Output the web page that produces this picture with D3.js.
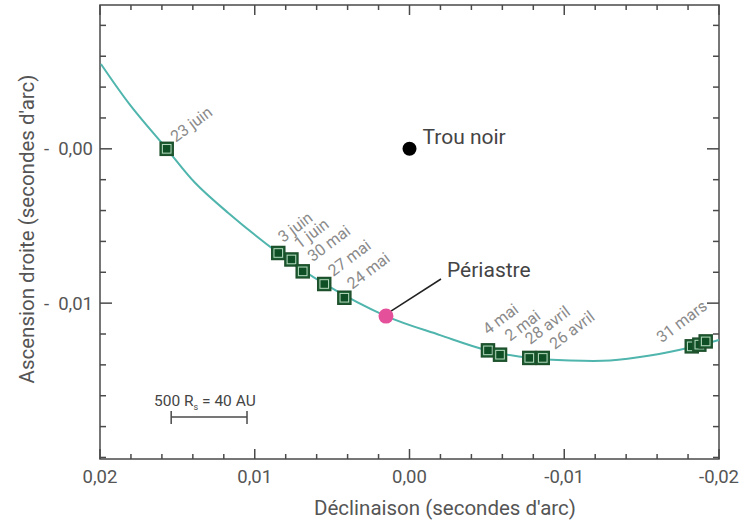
<!DOCTYPE html>
<html>
<head>
<meta charset="utf-8">
<script src="https://cdn.jsdelivr.net/npm/d3@7"></script>
<style>
  body { margin: 0; background: #fff; }
  svg text { font-family: Roboto, "Noto Sans", sans-serif; }
</style>
</head>
<body>
<svg id="chart" width="750" height="521"></svg>
<script>
// observed positions of the star (declinaison, ascension droite), arcsec
var obs_dates = ["23 juin", "3 juin", "1 juin", "30 mai", "27 mai", "24 mai",
                 "4 mai", "2 mai", "28 avril", "26 avril", "31 mars", "", ""];
var obs_dec = [0.01569, 0.00848, 0.00763, 0.00690, 0.00551, 0.00421,
               -0.00507, -0.00585, -0.00774, -0.00861, -0.01824, -0.01873, -0.01914];
var obs_ra = [0.00000, -0.00675, -0.00717, -0.00794, -0.00876, -0.00965,
              -0.01306, -0.01334, -0.01355, -0.01355, -0.01280, -0.01269, -0.01248];

// fitted orbit
var orbit_dec = [0.01994, 0.01806, 0.01569, 0.01386, 0.01173, 0.00850, 0.00552, 0.00152,
                 -0.00197, -0.00507, -0.00779, -0.01037, -0.01296, -0.01554, -0.01813, -0.02000];
var orbit_ra = [0.00550, 0.00285, 0.00000, -0.00220, -0.00414, -0.00673, -0.00874, -0.01084,
                -0.01207, -0.01307, -0.01356, -0.01372, -0.01372, -0.01340, -0.01288, -0.01239];

var black_hole = [0.0, 0.0];
var periastre = [0.00152, -0.01084];

var x_ticks = [0.02, 0.01, 0.0, -0.01, -0.02];
var y_ticks = [0.0, -0.01];

// label nudges (px) relative to each square
var label_dx = [9, 5, 8, 10, 9, 8, 0, 10, 1, 12, -30, 0, 0];
var label_dy = [-6, -10, -10, -9, -7, -8, -15, -13, -13, -8, -3, 0, 0];

const LEFT = 100, RIGHT = 719, TOP = 5, BOTTOM = 459;
const AXIS_COLOR = "#4a4a4a";
const TEXT_COLOR = "#555";

var svg = d3.select("svg#chart");

var x = d3.scaleLinear().domain([0.02, -0.02]).range([LEFT, RIGHT]);
var y = d3.scaleLinear().domain([0.00932, -0.0201]).range([TOP, BOTTOM]);

var fmt = v => v.toFixed(2).replace(".", ",").replace("-", "");
var fmt_x = v => (v < 0 ? "-" : "") + fmt(v);
var fmt_y = v => "-  " + fmt(v);

var minor_x = d3.range(-0.02, 0.0201, 0.002);
var minor_y = d3.range(-0.02, 0.0093, 0.002);

// ticks, all pointing inward
var ticks = svg.append("g").attr("stroke", AXIS_COLOR).attr("stroke-width", 1.5);
minor_x.forEach(function(v) {
    var major = x_ticks.some(t => Math.abs(t - v) < 1e-6);
    var len = major ? 10 : 5;
    ticks.append("line").attr("x1", x(v)).attr("x2", x(v)).attr("y1", BOTTOM).attr("y2", BOTTOM - len);
    ticks.append("line").attr("x1", x(v)).attr("x2", x(v)).attr("y1", TOP).attr("y2", TOP + len);
});
minor_y.forEach(function(v) {
    var major = y_ticks.some(t => Math.abs(t - v) < 1e-6);
    var len = major ? 12 : 6;
    ticks.append("line").attr("y1", y(v)).attr("y2", y(v)).attr("x1", LEFT).attr("x2", LEFT + len);
    ticks.append("line").attr("y1", y(v)).attr("y2", y(v)).attr("x1", RIGHT).attr("x2", RIGHT - len);
});

svg.append("rect")
    .attr("x", LEFT).attr("y", TOP)
    .attr("width", RIGHT - LEFT).attr("height", BOTTOM - TOP)
    .attr("fill", "none")
    .style("stroke", AXIS_COLOR)
    .style("stroke-width", 1.5);

svg.append("g").selectAll("text")
    .data(x_ticks)
    .join("text")
    .attr("x", d => x(d))
    .attr("y", 483)
    .attr("text-anchor", "middle")
    .attr("font-size", 18.5)
    .attr("fill", TEXT_COLOR)
    .text(d => fmt_x(d));

svg.append("g").selectAll("text")
    .data(y_ticks)
    .join("text")
    .attr("x", 93)
    .attr("y", d => y(d) + 6.5)
    .attr("text-anchor", "end")
    .attr("font-size", 18.5)
    .attr("fill", TEXT_COLOR)
    .style("white-space", "pre")
    .text(d => fmt_y(d));

svg.append("text")
    .attr("x", 445)
    .attr("y", 515)
    .attr("text-anchor", "middle")
    .attr("font-size", 20.5)
    .attr("fill", TEXT_COLOR)
    .text("Déclinaison (secondes d'arc)");

svg.append("text")
    .attr("transform", "translate(34,229) rotate(-90)")
    .attr("text-anchor", "middle")
    .attr("font-size", 20.5)
    .attr("fill", TEXT_COLOR)
    .text("Ascension droite (secondes d'arc)");

// orbit
var line = d3.line()
    .x(d => x(d[0]))
    .y(d => y(d[1]))
    .curve(d3.curveCatmullRom);

svg.append("path")
    .datum(d3.zip(orbit_dec, orbit_ra))
    .attr("d", line)
    .attr("fill", "none")
    .style("stroke", "#4fb5ad")
    .style("stroke-width", 2);

// black hole
svg.append("circle")
    .attr("cx", x(black_hole[0]))
    .attr("cy", y(black_hole[1]))
    .attr("r", 7)
    .attr("fill", "black");

svg.append("text")
    .attr("x", x(black_hole[0]) + 13)
    .attr("y", y(black_hole[1]) - 5)
    .attr("font-size", 21)
    .attr("fill", "#444")
    .text("Trou noir");

// observations
var obs = d3.range(obs_dates.length).map(i => ({
    date: obs_dates[i], dec: obs_dec[i], ra: obs_ra[i], dx: label_dx[i], dy: label_dy[i]
}));

var sq = svg.append("g").selectAll("g")
    .data(obs)
    .join("g")
    .attr("transform", d => "translate(" + x(d.dec) + "," + y(d.ra) + ")");

sq.append("rect")
    .attr("x", -6.5).attr("y", -6.5)
    .attr("width", 13).attr("height", 13)
    .attr("fill", "#1b6134")
    .style("stroke", "#1d4f2b")
    .style("stroke-width", 1.5);

sq.append("rect")
    .attr("x", -4.3).attr("y", -4.3)
    .attr("width", 8.6).attr("height", 8.6)
    .attr("fill", "#0f4f25")
    .style("stroke", "#b7d9bf")
    .style("stroke-width", 1);

svg.append("g").selectAll("text")
    .data(obs.filter(d => d.date != ""))
    .join("text")
    .attr("transform", d => "translate(" + (x(d.dec) + d.dx) + "," + (y(d.ra) + d.dy) + ") rotate(-37)")
    .attr("font-size", 16)
    .attr("fill", "#8a8a8a")
    .text(d => d.date);

// periastre
var px = x(periastre[0]), py = y(periastre[1]);
svg.append("line")
    .attr("x1", px + 5).attr("y1", py - 5)
    .attr("x2", 441).attr("y2", 279)
    .style("stroke", "#222")
    .style("stroke-width", 1.5);

svg.append("circle")
    .attr("cx", px)
    .attr("cy", py)
    .attr("r", 7.5)
    .attr("fill", "#e5509a");

svg.append("text")
    .attr("x", 447)
    .attr("y", 277)
    .attr("font-size", 21)
    .attr("fill", "#444")
    .text("Périastre");

// scale bar: 500 Rs = 40 AU ~ 0.005 arcsec
var bar_from = 0.0154, bar_to = 0.0105;
var bar = svg.append("g").style("stroke", AXIS_COLOR).style("stroke-width", 1.5);
bar.append("line").attr("x1", x(bar_from)).attr("x2", x(bar_to)).attr("y1", 417).attr("y2", 417);
bar.append("line").attr("x1", x(bar_from)).attr("x2", x(bar_from)).attr("y1", 411).attr("y2", 424);
bar.append("line").attr("x1", x(bar_to)).attr("x2", x(bar_to)).attr("y1", 411).attr("y2", 424);

var bar_text = svg.append("text")
    .attr("x", 154)
    .attr("y", 406)
    .attr("font-size", 15.5)
    .attr("fill", "#444");
bar_text.append("tspan").text("500 R");
bar_text.append("tspan").attr("font-size", 9).attr("dy", 4).text("s");
bar_text.append("tspan").attr("dy", -4).text(" = 40 AU");
</script>
</body>
</html>
